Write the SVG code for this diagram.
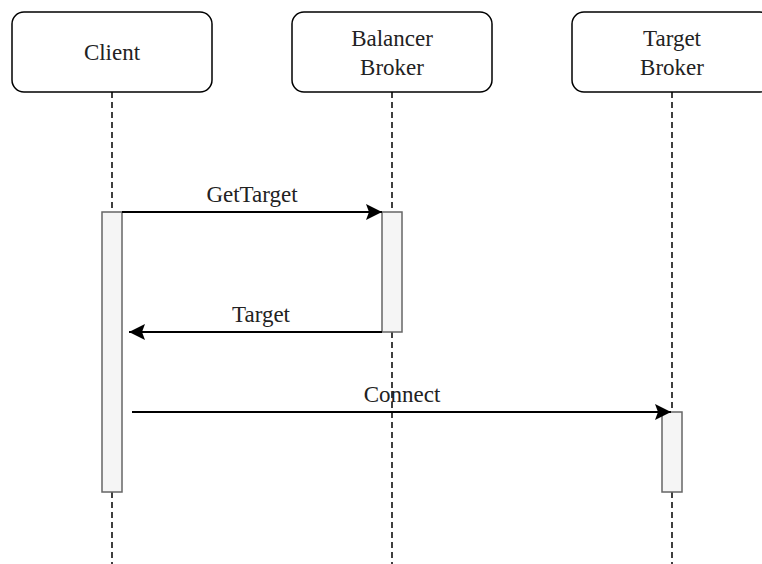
<svg xmlns="http://www.w3.org/2000/svg" width="762" height="564" viewBox="0 0 762 564">
<style>
.box{fill:#fff;stroke:#000;stroke-width:1.5}
.life{stroke:#000;stroke-width:1.5;stroke-dasharray:6 4;fill:none}
.act{fill:#f5f5f5;stroke:#666;stroke-width:1.5}
.msg{stroke:#000;stroke-width:2;fill:none}
text{font-family:"Liberation Serif","Times New Roman",serif;font-size:23px;fill:#222;text-anchor:middle}
</style>
<defs>
<marker id="ah" viewBox="0 0 16 16" refX="16" refY="8" markerWidth="16" markerHeight="16" markerUnits="userSpaceOnUse" orient="auto">
<path d="M0,0 L16,8 L0,16 L3,8 Z" fill="#000"/>
</marker>
</defs>
<rect width="762" height="564" fill="#fff"/>
<g id="client">
<line class="life" x1="112" y1="92" x2="112" y2="564"/>
<rect class="box" x="12" y="12" width="200" height="80" rx="12"/>
<text x="112" y="60">Client</text>
</g>
<g id="balancer">
<line class="life" x1="392" y1="92" x2="392" y2="564"/>
<rect class="box" x="292" y="12" width="200" height="80" rx="12"/>
<text x="392" y="46">Balancer</text>
<text x="392" y="75">Broker</text>
</g>
<g id="target">
<line class="life" x1="672" y1="92" x2="672" y2="564"/>
<rect class="box" x="572" y="12" width="200" height="80" rx="12"/>
<text x="672" y="46">Target</text>
<text x="672" y="75">Broker</text>
</g>
<g id="activations">
<rect class="act" x="102" y="212" width="20" height="280"/>
<rect class="act" x="382" y="212" width="20" height="120"/>
<rect class="act" x="662" y="412" width="20" height="80"/>
</g>
<g id="connectors">
<line class="msg" x1="122" y1="212" x2="382" y2="212" marker-end="url(#ah)"/>
<text x="252" y="202">GetTarget</text>
<line class="msg" x1="382" y1="332" x2="129" y2="332" marker-end="url(#ah)"/>
<text x="261" y="322">Target</text>
<line class="msg" x1="132" y1="412" x2="671" y2="412" marker-end="url(#ah)"/>
<text x="402" y="402">Connect</text>
</g>
</svg>
